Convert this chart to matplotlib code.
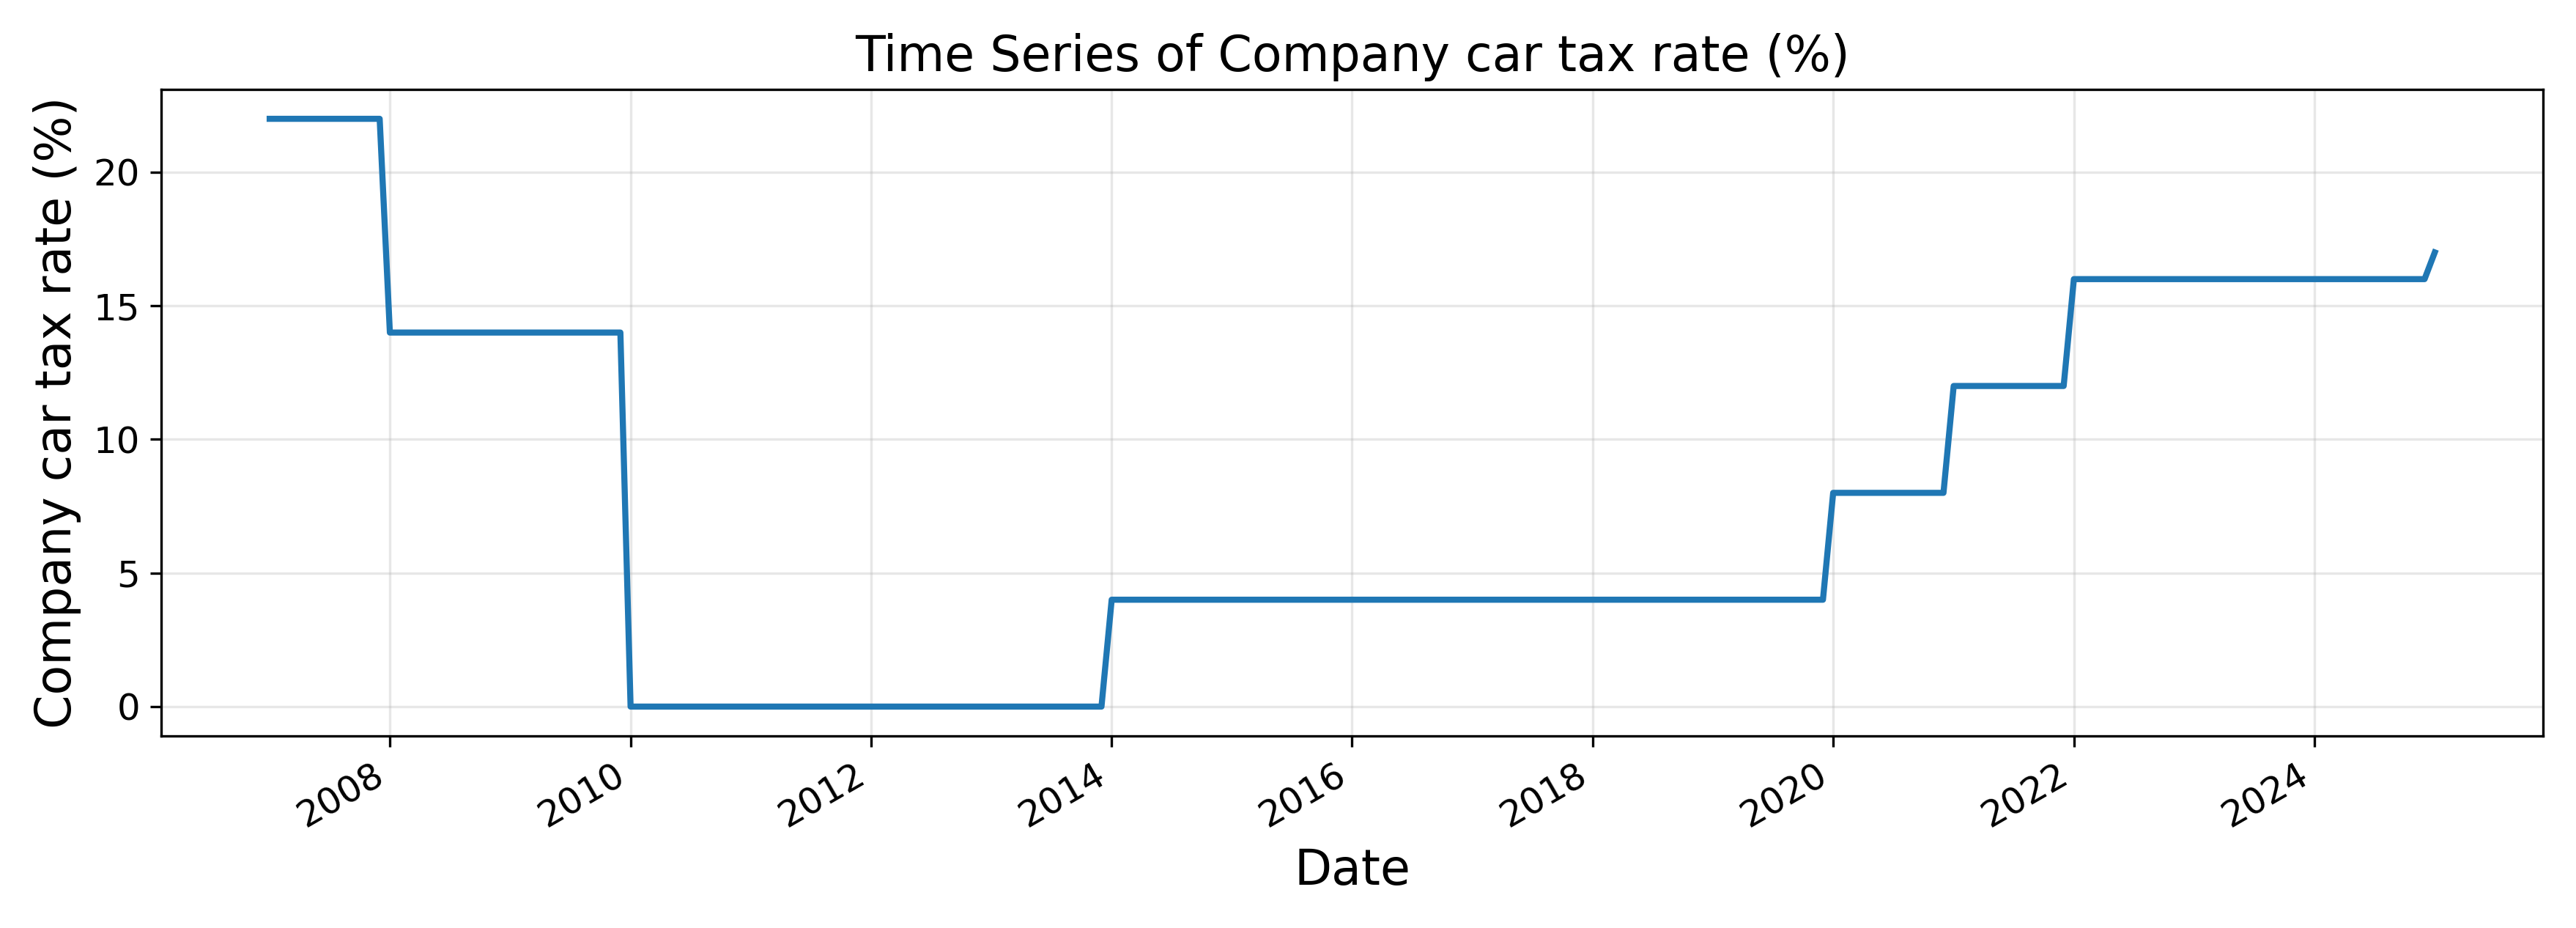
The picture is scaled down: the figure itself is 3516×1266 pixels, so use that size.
import matplotlib
matplotlib.use("Agg")
import matplotlib.pyplot as plt
import pandas as pd

# Rate levels and the first month each level applies (monthly series)
start_months = ["2007-01", "2008-01", "2010-01", "2014-01", "2020-01", "2021-01", "2022-01", "2025-01"]
rates = [22, 14, 0, 4, 8, 12, 16, 17]
end_month = "2025-01"

idx = pd.date_range("2007-01-01", end_month + "-01", freq="MS")
s = pd.Series(index=idx, dtype=float)
for m, r in zip(start_months, rates):
    s[pd.Timestamp(m + "-01")] = r
s = s.ffill()

fig, ax = plt.subplots(figsize=(11.72, 4.22), dpi=300)
ax.plot(s.index, s.values, color="#1f77b4", linewidth=2)
ax.set_title("Time Series of Company car tax rate (%)", fontsize=16)
ax.set_xlabel("Date", fontsize=16)
ax.set_ylabel("Company car tax rate (%)", fontsize=16)
ax.grid(True, alpha=0.3)
ax.tick_params(labelsize=12)
fig.autofmt_xdate()
fig.tight_layout()
fig.savefig("out.png", dpi=300)
